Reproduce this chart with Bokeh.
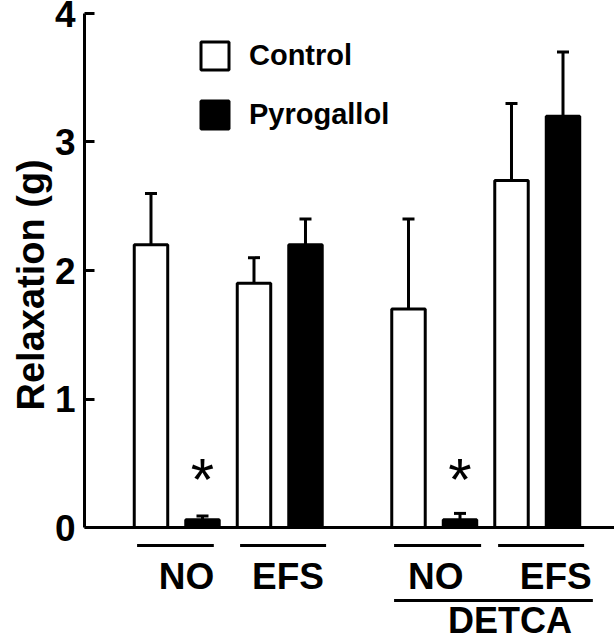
from bokeh.plotting import figure
from bokeh.models import (Range1d, Span, Whisker, ColumnDataSource, Legend, LegendItem,
                          FixedTicker, TeeHead, Title)
from bokeh.core.properties import value
from bokeh.embed import file_html
from bokeh.resources import INLINE

# ---- data ----
groups = ["NO", "EFS", "NO", "EFS"]
control = [2.2, 1.9, 1.7, 2.7]
control_sem = [0.4, 0.2, 0.7, 0.6]
pyrogallol = [0.06, 2.2, 0.06, 3.2]
pyrogallol_sem = [0.03, 0.2, 0.05, 0.5]
significant = [True, False, True, False]
y_ticks = [0, 1, 2, 3, 4]
series_labels = ["Control", "Pyrogallol"]
condition_label = "DETCA"
y_label = "Relaxation (g)"

# ---- layout (category positions) ----
group_x = [0.5, 2.5, 5.5, 7.5]
ctrl_x = [g - 0.5 for g in group_x]
pyro_x = [g + 0.5 for g in group_x]
label_dx = [0.19, 0.16, 0.03, 0.36]
line_left = [0.77, 0.77, 0.78, 0.76]
line_right = [0.72, 0.9, 0.91, 0.91]
FONT = value("Liberation Sans")

p = figure(width=614, height=640,
           x_range=Range1d(-1.291, 9.0), y_range=Range1d(-0.879, 4.101),
           output_backend="svg", toolbar_location=None, x_axis_location=None,
           min_border_left=84, min_border_right=0, min_border_top=0, min_border_bottom=0)
p.outline_line_color = None
p.grid.visible = False
p.background_fill_color = "white"

ctrl_src = ColumnDataSource(dict(x=ctrl_x, top=control,
                                 lo=control, hi=[v + s for v, s in zip(control, control_sem)]))
pyro_src = ColumnDataSource(dict(x=pyro_x, top=pyrogallol,
                                 lo=pyrogallol, hi=[v + s for v, s in zip(pyrogallol, pyrogallol_sem)]))

for src in (ctrl_src, pyro_src):
    w = Whisker(base="x", lower="lo", upper="hi", source=src, line_width=3, line_color="black",
                upper_head=TeeHead(size=12, line_width=3, line_color="black"), lower_head=None)
    p.add_layout(w)

r_ctrl = p.vbar(x="x", top="top", bottom=0, width=0.65, source=ctrl_src,
                fill_color="white", line_color="black", line_width=3)
r_pyro = p.vbar(x="x", top="top", bottom=0, width=0.65, source=pyro_src,
                fill_color="black", line_color="black", line_width=3)

# baseline
p.add_layout(Span(location=0, dimension="width", line_color="black", line_width=3))

# asterisks
ast_x = [x for x, s in zip(pyro_x, significant) if s]
p.text(x=ast_x, y=[0.37] * len(ast_x), text=["*"] * len(ast_x), text_font=FONT,
       text_font_size="60px", text_align="center", text_baseline="alphabetic", text_color="black")

# group lines and labels
p.segment(x0=[g - l for g, l in zip(group_x, line_left)], x1=[g + r for g, r in zip(group_x, line_right)],
          y0=[-0.14] * 4, y1=[-0.14] * 4, line_color="black", line_width=3)
p.text(x=[g + d for g, d in zip(group_x, label_dx)], y=[-0.381] * 4, text=groups, text_font=FONT,
       text_font_style="bold", text_font_size="37px", text_align="center", text_baseline="middle",
       text_color="black")
p.segment(x0=[group_x[2] - line_left[2]], x1=[group_x[3] + 1.08], y0=[-0.568], y1=[-0.568],
          line_color="black", line_width=3)
p.text(x=[6.97], y=[-0.724], text=[condition_label], text_font=FONT, text_font_style="bold",
       text_font_size="36px", text_align="center", text_baseline="middle", text_color="black")

# y axis
ax = p.yaxis[0]
ax.bounds = (0, 4)
ax.ticker = FixedTicker(ticks=y_ticks)
ax.minor_tick_line_color = None
ax.major_tick_in = 10
ax.major_tick_out = 0
ax.major_tick_line_width = 3
ax.axis_line_width = 3
ax.axis_line_color = "black"
ax.major_tick_line_color = "black"
ax.major_label_text_font = "Liberation Sans"
ax.major_label_text_font_style = "bold"
ax.major_label_text_font_size = "37px"
ax.major_label_text_color = "black"
ax.major_label_standoff = 9

# y axis title (placed so that it is centred on the 0..4 axis extent)
ytitle = Title(text=y_label, align="left", offset=230, standoff=0, vertical_align="bottom",
               text_font="Liberation Sans", text_font_style="bold", text_font_size="38px",
               text_color="black")
p.add_layout(ytitle, "left")

legend = Legend(items=[LegendItem(label=series_labels[0], renderers=[r_ctrl]),
                       LegendItem(label=series_labels[1], renderers=[r_pyro])],
                location=(113, 508), glyph_width=35, glyph_height=35, spacing=24,
                padding=0, margin=0, label_standoff=17, border_line_color=None,
                background_fill_alpha=0, label_text_font="Liberation Sans",
                label_text_font_style="bold", label_text_font_size="29px",
                label_text_color="black", label_height=35)
p.add_layout(legend)

open("out.html", "w").write(file_html(p, INLINE))
